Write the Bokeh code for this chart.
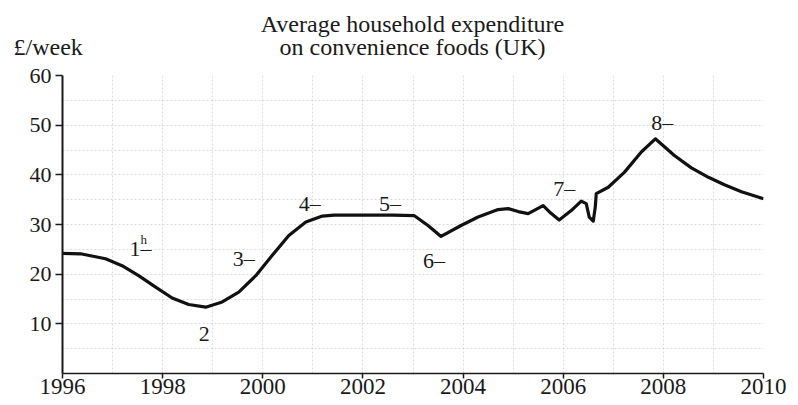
from bokeh.plotting import figure
from bokeh.layouts import column
from bokeh.models import Label, FixedTicker, Range1d, ColumnDataSource
from bokeh.core.properties import value
from bokeh.embed import file_html
from bokeh.resources import INLINE

# ---- data ----
years = [1996.0, 1996.36, 1996.86, 1997.19, 1997.52, 1997.86, 1998.19, 1998.52,
         1998.86, 1999.19, 1999.52, 1999.86, 2000.19, 2000.52, 2000.86, 2001.19,
         2001.42, 2002.0, 2002.6, 2003.02, 2003.3, 2003.56, 2003.96, 2004.3,
         2004.7, 2004.9, 2005.1, 2005.3, 2005.45, 2005.6, 2005.75, 2005.92,
         2006.16, 2006.36, 2006.46, 2006.52, 2006.6, 2006.64, 2006.66, 2006.9,
         2007.22, 2007.56, 2007.84, 2008.22, 2008.56, 2008.9, 2009.22, 2009.56,
         2010.0]
spend = [24.2, 24.1, 23.1, 21.7, 19.7, 17.4, 15.2, 13.9,
         13.35, 14.4, 16.4, 19.7, 23.8, 27.8, 30.5, 31.7,
         31.9, 31.9, 31.9, 31.8, 29.8, 27.6, 29.8, 31.5,
         33.0, 33.2, 32.6, 32.2, 33.0, 33.8, 32.3, 30.9,
         32.8, 34.7, 34.2, 31.5, 30.7, 33.5, 36.2, 37.5,
         40.5, 44.6, 47.25, 43.9, 41.4, 39.5, 38.0, 36.6,
         35.2]
x_ticks = [1996, 1998, 2000, 2002, 2004, 2006, 2008, 2010]
y_ticks = [10, 20, 30, 40, 50, 60]
point_labels = ["1\u2013", "2", "3\u2013", "4\u2013", "5\u2013", "6\u2013", "7\u2013", "8\u2013"]
label_years = [1997.34, 1998.72, 1999.4, 2000.72, 2002.32, 2003.2, 2005.8, 2007.76]
label_values = [25.2, 8.05, 23.1, 34.2, 34.2, 22.75, 37.2, 50.6]
title_lines = ["Average household expenditure", "on convenience foods (UK)"]
unit_text = "\u00a3/week"

FONT = "Liberation Serif"
INK = "#1a1a1a"
W = 798
HDR_H = 62

# ---- header (title + unit), header canvas units are pixels ----
hdr = figure(width=W, height=HDR_H, output_backend="svg", toolbar_location=None,
             x_range=Range1d(0, W), y_range=Range1d(HDR_H, 0),
             x_axis_type=None, y_axis_type=None, min_border=0, title=None)
hdr.frame_align = False
hdr.outline_line_color = None
hdr.xgrid.visible = False
hdr.ygrid.visible = False
hdr.text(x=[412, 412], y=[23, 46.5], text=title_lines, text_font=value(FONT),
         text_font_size="24px", text_color=INK, text_align="center",
         text_baseline="alphabetic")
hdr.text(x=[13], y=[46.5], text=[unit_text], text_font=value(FONT),
         text_font_size="24px", text_color=INK, text_align="left",
         text_baseline="alphabetic")

# ---- main chart ----
p = figure(width=W, height=405 - HDR_H, output_backend="svg", toolbar_location=None,
           x_range=Range1d(1996, 2010), y_range=Range1d(0, 60),
           min_border_left=62, min_border_right=35, min_border_top=75 - HDR_H,
           min_border_bottom=32)
p.frame_align = False
p.outline_line_color = None
p.background_fill_color = "white"

p.xgrid.ticker = FixedTicker(ticks=list(range(1996, 2011)))
p.ygrid.ticker = FixedTicker(ticks=[5, 10, 15, 20, 25, 30, 35, 40, 45, 50, 55])
for g in (p.xgrid, p.ygrid):
    g.grid_line_color = "#bdbdbd"
    g.grid_line_alpha = 0.55
    g.grid_line_dash = "2 2"
    g.grid_line_width = 1

for ax in (p.xaxis, p.yaxis):
    ax.axis_line_color = INK
    ax.major_tick_line_color = INK
    ax.major_tick_in = 0
    ax.minor_tick_line_color = None
    ax.major_label_text_font = FONT
    ax.major_label_text_color = INK

p.xaxis.ticker = FixedTicker(ticks=x_ticks)
p.xaxis.major_label_text_font_size = "23px"
p.xaxis.major_tick_out = 5
p.xaxis.major_label_standoff = 0
p.xaxis.axis_line_width = 1.5
p.xaxis.major_tick_line_width = 1.5

p.yaxis.ticker = FixedTicker(ticks=y_ticks)
p.yaxis.major_label_text_font_size = "22px"
p.yaxis.major_tick_out = 7
p.yaxis.major_label_standoff = 4
p.yaxis.axis_line_width = 2
p.yaxis.major_tick_line_width = 1.5

p.line(years, spend, line_color="#111111", line_width=3.2, line_join="round")

src = ColumnDataSource(dict(x=label_years, y=label_values, t=point_labels))
p.text(x="x", y="y", text="t", source=src, text_font=value(FONT),
       text_font_size="22px", text_color=INK, text_align="left",
       text_baseline="middle")

p.add_layout(Label(x=1997.56, y=27.0, text="h", text_font=FONT,
                   text_font_size="13px", text_color=INK,
                   text_align="left", text_baseline="middle"))

layout = column(hdr, p, spacing=0)
open("out.html", "w").write(file_html(layout, INLINE))
